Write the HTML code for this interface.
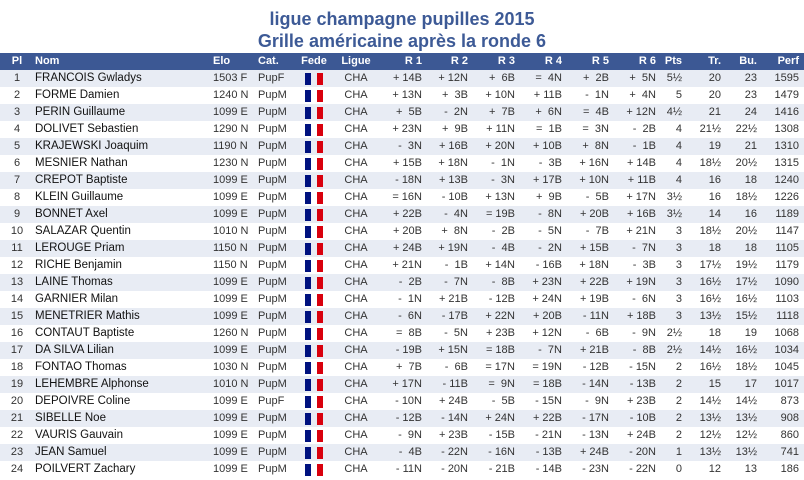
<!DOCTYPE html>
<html><head><meta charset="utf-8"><style>
body{margin:0;width:804px;height:480px;background:#fff;overflow:hidden;font-family:"Liberation Sans",Arial,sans-serif;position:relative}
.t{position:absolute;left:0;width:804px;text-align:center;font-weight:bold;font-size:18px;color:#3d5a96;line-height:22px}
.row{position:absolute;left:0;width:804px;height:17px}
.c{position:absolute;top:0;line-height:17px;font-size:11px;color:#333;white-space:pre}
.hd .c{color:#fff;font-weight:bold}
.flag{position:absolute;top:3px;width:6px;height:12px}
</style></head><body>
<div class="t" style="top:8px">ligue champagne pupilles 2015</div>
<div class="t" style="top:30px">Grille américaine après la ronde 6</div>
<div id="tbl"></div>
<script>
const names=["FRANCOIS Gwladys","FORME Damien","PERIN Guillaume","DOLIVET Sebastien","KRAJEWSKI Joaquim","MESNIER Nathan","CREPOT Baptiste","KLEIN Guillaume","BONNET Axel","SALAZAR Quentin","LEROUGE Priam","RICHE Benjamin","LAINE Thomas","GARNIER Milan","MENETRIER Mathis","CONTAUT Baptiste","DA SILVA Lilian","FONTAO Thomas","LEHEMBRE Alphonse","DEPOIVRE Coline","SIBELLE Noe","VAURIS Gauvain","JEAN Samuel","POILVERT Zachary"];
const elos=["1503 F","1240 N","1099 E","1290 N","1190 N","1230 N","1099 E","1099 E","1099 E","1010 N","1150 N","1150 N","1099 E","1099 E","1099 E","1260 N","1099 E","1030 N","1010 N","1099 E","1099 E","1099 E","1099 E","1099 E"];
const cats=["PupF","PupM","PupM","PupM","PupM","PupM","PupM","PupM","PupM","PupM","PupM","PupM","PupM","PupM","PupM","PupM","PupM","PupM","PupM","PupF","PupM","PupM","PupM","PupM"];
const rounds=[
["+14B","+12N","+6B","=4N","+2B","+5N"],
["+13N","+3B","+10N","+11B","-1N","+4N"],
["+5B","-2N","+7B","+6N","=4B","+12N"],
["+23N","+9B","+11N","=1B","=3N","-2B"],
["-3N","+16B","+20N","+10B","+8N","-1B"],
["+15B","+18N","-1N","-3B","+16N","+14B"],
["-18N","+13B","-3N","+17B","+10N","+11B"],
["=16N","-10B","+13N","+9B","-5B","+17N"],
["+22B","-4N","=19B","-8N","+20B","+16B"],
["+20B","+8N","-2B","-5N","-7B","+21N"],
["+24B","+19N","-4B","-2N","+15B","-7N"],
["+21N","-1B","+14N","-16B","+18N","-3B"],
["-2B","-7N","-8B","+23N","+22B","+19N"],
["-1N","+21B","-12B","+24N","+19B","-6N"],
["-6N","-17B","+22N","+20B","-11N","+18B"],
["=8B","-5N","+23B","+12N","-6B","-9N"],
["-19B","+15N","=18B","-7N","+21B","-8B"],
["+7B","-6B","=17N","=19N","-12B","-15N"],
["+17N","-11B","=9N","=18B","-14N","-13B"],
["-10N","+24B","-5B","-15N","-9N","+23B"],
["-12B","-14N","+24N","+22B","-17N","-10B"],
["-9N","+23B","-15B","-21N","-13N","+24B"],
["-4B","-22N","-16N","-13B","+24B","-20N"],
["-11N","-20N","-21B","-14B","-23N","-22N"]];
const pts=["5½","5","4½","4","4","4","4","3½","3½","3","3","3","3","3","3","2½","2½","2","2","2","2","2","1","0"];
const tr=["20","20","21","21½","19","18½","16","16","14","18½","18","17½","16½","16½","13½","18","14½","16½","15","14½","13½","12½","13½","12"];
const bu=["23","23","24","22½","21","20½","18","18½","16","20½","18","19½","17½","16½","15½","19","16½","18½","17","14½","13½","12½","13½","13"];
const perf=["1595","1479","1416","1308","1310","1315","1240","1226","1189","1147","1105","1179","1090","1103","1118","1068","1034","1045","1017","873","908","860","741","186"];
const rRight=[422,468,515,562,609,656];
const tbl=document.getElementById('tbl');
function cell(row,txt,x,align,name,extra){
  const d=document.createElement('div');
  d.className='c';
  
  
  d.textContent=txt;
  if(align==='r'){d.style.right=(804-x)+'px';}
  else if(align==='c'){d.style.left=(x-30)+'px';d.style.width='60px';d.style.textAlign='center';}
  else d.style.left=x+'px';
  if(extra)Object.assign(d.style,extra);
  row.appendChild(d);return d;
}
const h=document.createElement('div');h.className='row hd';h.style.top='53px';h.style.background='#3c5894';h.style.height='17px';


tbl.appendChild(h);
cell(h,'Pl',17,'c','header-pl');
cell(h,'Nom',35,'l','header-nom');
cell(h,'Elo',213,'l','header-elo');
cell(h,'Cat.',258,'l','header-cat');
cell(h,'Fede',314,'c','header-fede');
cell(h,'Ligue',356,'c','header-ligue');
rRight.forEach((x,i)=>cell(h,'R '+(i+1),x,'r','header-r'+(i+1)));
cell(h,'Pts',682,'r','header-pts');
cell(h,'Tr.',721,'r','header-tr');
cell(h,'Bu.',757,'r','header-bu');
cell(h,'Perf',799,'r','header-perf');
names.forEach((nm,i)=>{
  const r=document.createElement('div');r.className='row';r.style.top=(70+i*17)+'px';
  r.style.background=i%2===0?'#e8ecf4':'#fff';
  
  
  tbl.appendChild(r);
  cell(r,String(i+1),17,'c','rank');
  cell(r,nm,35,'l','player-name',{color:'#111',fontSize:'11.5px'});
  cell(r,elos[i],213,'l','elo');
  cell(r,cats[i],258,'l','category');
  const b=document.createElement('div');b.className='flag';b.style.left='305px';b.style.background='#00127f';
  
  
  r.appendChild(b);
  const rd=document.createElement('div');rd.className='flag';rd.style.left='317px';rd.style.background='#d9000d';
  
  
  r.appendChild(rd);
  cell(r,'CHA',356,'c','ligue');
  rounds[i].forEach((s,k)=>{const n=s.slice(1);cell(r,s[0]+(n.length<3?'  ':' ')+n,rRight[k],'r','round-'+(k+1)+'-result');});
  cell(r,pts[i],682,'r','points');
  cell(r,tr[i],721,'r','tiebreak-tr');
  cell(r,bu[i],757,'r','tiebreak-bu');
  cell(r,perf[i],799,'r','performance');
});
</script>
</body></html>
